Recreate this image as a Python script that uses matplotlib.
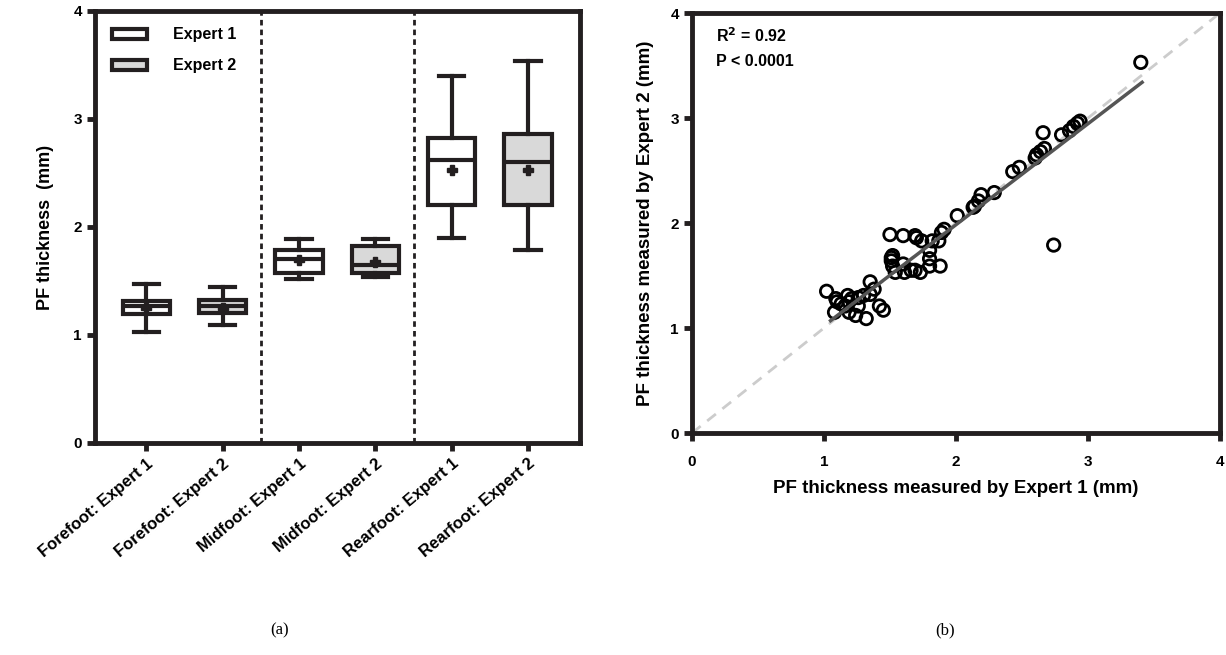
import numpy as np
import matplotlib
matplotlib.use("Agg")
import matplotlib.pyplot as plt
from matplotlib.patches import Patch

plt.rcParams['font.family'] = ['Liberation Sans', 'DejaVu Sans']
plt.rcParams['font.weight'] = 'bold'
plt.rcParams['axes.labelweight'] = 'bold'

INK = '#231f20'

# (a) box plot summaries
groups = ['Forefoot: Expert 1', 'Forefoot: Expert 2', 'Midfoot: Expert 1',
          'Midfoot: Expert 2', 'Rearfoot: Expert 1', 'Rearfoot: Expert 2']
whis_lo = [1.03, 1.09, 1.52, 1.54, 1.90, 1.79]
q1 = [1.19, 1.20, 1.57, 1.57, 2.20, 2.20]
median = [1.27, 1.27, 1.70, 1.65, 2.62, 2.60]
q3 = [1.31, 1.32, 1.79, 1.82, 2.82, 2.86]
whis_hi = [1.47, 1.44, 1.89, 1.89, 3.40, 3.54]
means = [1.25, 1.25, 1.69, 1.68, 2.53, 2.53]
fills = ['white', '#d9d9d9', 'white', '#d9d9d9', 'white', '#d9d9d9']

# (b) paired measurements, Expert 1 vs Expert 2 (mm)
expert1 = [3.40, 2.74, 2.66, 2.80, 2.86, 2.89, 2.92, 2.94, 2.67, 2.64,
           2.61, 2.60, 2.43, 2.48, 2.29, 2.19, 2.17, 2.14, 2.13, 2.01,
           1.91, 1.89, 1.87, 1.88, 1.80, 1.80, 1.80, 1.82, 1.74, 1.70,
           1.69, 1.60, 1.50, 1.73, 1.69, 1.61, 1.54, 1.60, 1.52, 1.51,
           1.52, 1.51, 1.66, 1.35, 1.38, 1.35, 1.30, 1.26, 1.21, 1.18,
           1.02, 1.09, 1.10, 1.08, 1.19, 1.24, 1.32, 1.42, 1.45, 1.16,
           1.26, 1.19, 1.13]
expert2 = [3.53, 1.79, 2.86, 2.84, 2.88, 2.92, 2.95, 2.97, 2.71, 2.68,
           2.65, 2.62, 2.49, 2.53, 2.29, 2.27, 2.21, 2.16, 2.15, 2.07,
           1.94, 1.91, 1.83, 1.59, 1.59, 1.66, 1.74, 1.83, 1.83, 1.86,
           1.88, 1.88, 1.89, 1.53, 1.55, 1.53, 1.53, 1.61, 1.59, 1.64,
           1.69, 1.67, 1.55, 1.44, 1.37, 1.32, 1.31, 1.29, 1.28, 1.31,
           1.35, 1.28, 1.25, 1.15, 1.15, 1.12, 1.09, 1.21, 1.17, 1.21,
           1.21, 1.25, 1.23]
fit_x = [1.05, 3.41]
fit_y = [1.07, 3.34]

fig = plt.figure(figsize=(12.26, 6.55), dpi=100)

# ---- (a) ----
ax1 = fig.add_axes([0.0775, 0.3237, 0.3956, 0.6596])
stats = []
for i in range(len(groups)):
    stats.append(dict(med=median[i], q1=q1[i], q3=q3[i], whislo=whis_lo[i],
                      whishi=whis_hi[i], mean=means[i], fliers=[], label=groups[i]))
pos = np.arange(1, len(groups) + 1)
bp = ax1.bxp(stats, positions=pos, widths=0.62, capwidths=0.33, showmeans=True,
             patch_artist=True,
             boxprops=dict(linewidth=3, edgecolor=INK),
             medianprops=dict(linewidth=3, color=INK),
             whiskerprops=dict(linewidth=3, color=INK),
             capprops=dict(linewidth=3, color=INK),
             meanprops=dict(marker='P', markersize=7, markerfacecolor=INK,
                            markeredgecolor=INK))
for patch, c in zip(bp['boxes'], fills):
    patch.set_facecolor(c)

for xv in [2.5, 4.5]:
    ax1.axvline(xv, color=INK, lw=2, ls=(0, (2.0, 1.5)), zorder=0)

ax1.set_xlim(0.33, 6.68)
ax1.set_ylim(0, 4)
ax1.set_yticks([0, 1, 2, 3, 4])
ax1.set_xticks(pos)
for s in ax1.spines.values():
    s.set_linewidth(3.5)
    s.set_color(INK)
ax1.tick_params(width=3.5, length=6, color=INK, labelsize=11)
ax1.set_xticklabels(groups, rotation=40, ha='right', rotation_mode='anchor',
                    fontsize=12)
ax1.set_ylabel('PF thickness  (mm)', fontsize=13, labelpad=14)

leg = ax1.legend(handles=[Patch(facecolor='white', edgecolor=INK, lw=3, label='Expert 1'),
                          Patch(facecolor='#d9d9d9', edgecolor=INK, lw=3, label='Expert 2')],
                 loc='upper left', bbox_to_anchor=(0.005, 0.995), frameon=False,
                 fontsize=11.5, handlelength=2.2, handleheight=0.6, labelspacing=1.0,
                 handletextpad=1.6)

# ---- (b) ----
ax2 = fig.add_axes([0.5644, 0.3389, 0.4307, 0.6412])
ax2.plot([0, 4], [0, 4], color='#cccccc', lw=2, ls=(0, (4, 3)), zorder=1)
ax2.scatter(expert1, expert2, s=80, facecolors='none', edgecolors='black',
            linewidths=2, zorder=2)
ax2.plot(fit_x, fit_y, color='#555555', lw=2.5, zorder=3)
ax2.set_xlim(0, 4)
ax2.set_ylim(0, 4)
ax2.set_xticks([0, 1, 2, 3, 4])
ax2.set_yticks([0, 1, 2, 3, 4])
for s in ax2.spines.values():
    s.set_linewidth(3.5)
    s.set_color(INK)
ax2.tick_params(width=3.5, length=6, color=INK, labelsize=11)
ax2.tick_params(axis='x', pad=10)
ax2.set_xlabel('PF thickness measured by Expert 1 (mm)', fontsize=13.5, labelpad=8)
ax2.set_ylabel('PF thickness measured by Expert 2 (mm)', fontsize=13.5, labelpad=12)
ax2.text(0.045, 0.945, r'R$^{\mathbf{2}}$ = 0.92', transform=ax2.transAxes,
         fontsize=11.5, va='center')
ax2.text(0.045, 0.885, 'P < 0.0001', transform=ax2.transAxes, fontsize=11.5,
         va='center')

fig.text(0.228, 0.038, '(a)', family='Liberation Serif', weight='normal',
         fontsize=12, ha='center', va='center')
fig.text(0.771, 0.038, '(b)', family='Liberation Serif', weight='normal',
         fontsize=12, ha='center', va='center')

fig.savefig('out.png', dpi=100)
